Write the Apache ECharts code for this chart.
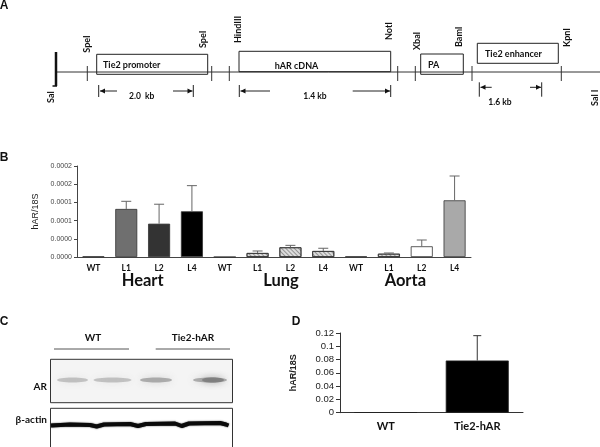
<!DOCTYPE html>
<html><head><meta charset="utf-8">
<script src="https://cdn.jsdelivr.net/npm/echarts@6/dist/echarts.min.js"></script>
<style>html,body{margin:0;padding:0;background:#fff}#c{width:600px;height:447px}</style>
</head><body><div id="c"></div>
<script>
// ---- Panel B data ----
const bGroups = ['Heart', 'Lung', 'Aorta'];
const bLabels = ['WT','L1','L2','L4','WT','L1','L2','L4','WT','L1','L2','L4'];
const bValues = [0.0000015, 0.000132, 0.0000915, 0.0001255, 0, 0.000011, 0.0000266, 0.0000165, 0.0000015, 0.000009, 0.0000294, 0.0001557];
const bErrors = [0, 0.000021, 0.0000535, 0.0000705, 0, 0.0000055, 0.0000054, 0.0000075, 0, 0.000002, 0.0000173, 0.0000668];
const bTickLabels = ['0.0000','0.0000','0.0001','0.0001','0.0002','0.0002'];
// ---- Panel D data ----
const dLabels = ['WT', 'Tie2-hAR'];
const dValues = [0.0006, 0.0786];
const dErrors = [0, 0.0374];

const FONT = 'Lato, "Open Sans", sans-serif';
const chart = echarts.init(document.getElementById('c'), null, {renderer: 'canvas'});

const hatch = {symbol: 'rect', symbolSize: 1, dashArrayX: [1, 0], dashArrayY: [1, 1.5], rotation: Math.PI / 4, color: 'rgba(60,60,60,0.45)'};
const bStyles = [
  {color: '#888'}, {color: '#6f6f6f'}, {color: '#333333'}, {color: '#000'},
  {color: '#ccc'}, {color: '#dcdcdc', decal: hatch}, {color: '#dcdcdc', decal: hatch}, {color: '#dcdcdc', decal: hatch},
  {color: '#888'}, {color: '#dcdcdc', decal: hatch}, {color: '#fff'}, {color: '#a9a9a9'}
];

function errItem(gridIdx, color) {
  return function (params, api) {
    const x = api.value(0), lo = api.value(1), hi = api.value(2);
    if (!(hi > lo)) return null;
    const p1 = api.coord([x, lo]), p2 = api.coord([x, hi]);
    const w = gridIdx === 0 ? 10 : 8;
    return {type: 'group', children: [
      {type: 'line', shape: {x1: p1[0], y1: p1[1], x2: p2[0], y2: p2[1]}, style: {stroke: color, lineWidth: 1}},
      {type: 'line', shape: {x1: p2[0] - w / 2, y1: p2[1], x2: p2[0] + w / 2, y2: p2[1]}, style: {stroke: color, lineWidth: 1}}
    ]};
  };
}

// ---- graphic: panel letters, schematic A, blot C ----
const G = [];
const bold = (size) => 'bold ' + size + 'px ' + FONT;
function txt(x, y, s, size, opts) {
  opts = opts || {};
  G.push({type: 'text', x: x, y: y, rotation: opts.rot || 0, z: 10,
    style: {text: s, font: opts.font || bold(size), fill: opts.fill || '#111',
      align: opts.align || 'center', verticalAlign: opts.va || 'middle',
      textAlign: opts.align || 'center', textVerticalAlign: opts.va || 'middle'}});
}
function ln(x1, y1, x2, y2, w, c) {
  G.push({type: 'line', z: 5, shape: {x1: x1, y1: y1, x2: x2, y2: y2}, style: {stroke: c || '#222', lineWidth: w || 1}});
}
function box(x, y, w, h) {
  G.push({type: 'rect', z: 5, shape: {x: x, y: y, width: w, height: h}, style: {fill: 'transparent', stroke: '#222', lineWidth: 1}});
}
function tri(x, y, dir) {
  const s = 5, h = 2.5;
  const pts = dir < 0 ? [[x, y], [x + s, y - h], [x + s, y + h]] : [[x, y], [x - s, y - h], [x - s, y + h]];
  G.push({type: 'polygon', z: 6, shape: {points: pts}, style: {fill: '#111'}});
}

// Letters
txt(4, 6, 'A', 12, {font: 'bold 12px "Liberation Sans", Arial'});
txt(4, 158, 'B', 12, {font: 'bold 12px "Liberation Sans", Arial'});
txt(4, 322, 'C', 12, {font: 'bold 12px "Liberation Sans", Arial'});
txt(296, 322, 'D', 12, {font: 'bold 12px "Liberation Sans", Arial'});

// Panel A: construct map
const AF = 9;
ln(57, 72, 600, 72, 1, '#333');
ln(56, 52, 56, 86, 2.5, '#111');
ln(52.5, 86, 57, 86, 1.5, '#111');
txt(51.5, 103, 'Sal', AF, {rot: Math.PI / 2, align: 'left'});
txt(595, 106, 'Sal I', AF, {rot: Math.PI / 2, align: 'left'});
[87.3, 211.7, 229.3, 397.7, 415.3, 472, 561.3].forEach(x => ln(x, 66, x, 81, 1, '#333'));
[[87.3, 52.7, 'SpeI'], [203.3, 48, 'SpeI'], [238.3, 43, 'HindIII'], [389.3, 40, 'NotI'],
 [416.7, 50, 'XbaI'], [459.3, 47, 'BamI'], [566.7, 47, 'KpnI']].forEach(r => txt(r[0], r[1], r[2], AF, {rot: Math.PI / 2, align: 'left'}));
box(96.7, 54.3, 111, 20);
box(239, 51.3, 151.7, 20.4);
box(420.7, 54, 42.6, 20.3);
box(477.3, 43.3, 81, 20);
txt(103, 65, 'Tie2 promoter', AF, {align: 'left'});
txt(296.5, 66, 'hAR cDNA', AF);
txt(428, 65, 'PA', AF, {align: 'left'});
txt(485, 54, 'Tie2 enhancer', AF, {align: 'left'});
// dimension arrows
ln(98.7, 85, 98.7, 97); ln(193.3, 85, 193.3, 97);
ln(100, 91, 117, 91); tri(100, 91, -1); ln(173, 91, 192.5, 91); tri(192.5, 91, 1);
txt(141.7, 96.7, '2.0  kb', 8.5);
ln(239.3, 85, 239.3, 97); ln(390.7, 85, 390.7, 97);
ln(240.5, 91, 270, 91); tri(240.5, 91, -1); ln(352.7, 91, 390, 91); tri(390, 91, 1);
txt(315, 96, '1.4 kb', 8.5);
ln(479.3, 82.3, 479.3, 96.7); ln(541.7, 82.3, 541.7, 96.7);
ln(480.5, 87.3, 491.7, 87.3); tri(480.5, 87.3, -1); ln(530, 87.3, 541, 87.3); tri(541, 87.3, 1);
txt(500, 102.7, '1.6 kb', 8.5);

// Panel C: western blot
txt(93, 338, 'WT', 10);
txt(193, 338, 'Tie2-hAR', 10);
ln(54, 349, 129, 349, 1, '#555');
ln(155.7, 349, 230, 349, 1, '#555');
G.push({type: 'rect', z: 4, shape: {x: 50.5, y: 359.3, width: 182, height: 43.4}, style: {fill: '#f4f4f4', stroke: '#333', lineWidth: 1}});
G.push({type: 'rect', z: 4, shape: {x: 50.5, y: 408.3, width: 182, height: 45}, style: {fill: '#fff', stroke: '#333', lineWidth: 1}});
[[72.5, 15.5, 0.35], [112.5, 19, 0.35], [156, 16, 0.5], [210, 17, 0.5]].forEach(b => {
  G.push({type: 'ellipse', z: 5, shape: {cx: b[0], cy: 380, rx: b[1], ry: 2.5},
    style: {fill: 'rgba(110,110,110,' + b[2] + ')', shadowBlur: 7, shadowColor: 'rgba(120,120,120,' + b[2] + ')'}});
});
G.push({type: 'ellipse', z: 5, shape: {cx: 213, cy: 380, rx: 11, ry: 2.8}, style: {fill: 'rgba(90,90,90,0.45)', shadowBlur: 6, shadowColor: 'rgba(90,90,90,0.6)'}});
G.push({type: 'polyline', z: 6, shape: {points: [[51, 425.5], [70, 424.5], [90, 425], [96.7, 426.5], [104, 424.5], [130, 424], [138, 426], [146, 424], [175, 423.5], [181.7, 426], [189, 423.5], [220, 423], [226, 424.5], [228.5, 425.5]]},
  style: {stroke: '#0a0a0a', lineWidth: 4, lineJoin: 'round', shadowBlur: 1.5, shadowColor: '#222'}});
txt(47, 387, 'AR', 10, {align: 'right'});
txt(47, 419.5, 'β-actin', 10, {align: 'right'});

const groupRich = {fontFamily: 'Lato', fontWeight: 700, fontSize: 16.5, color: '#111'};
const option = {
  animation: false,
  backgroundColor: '#fff',
  graphic: G,
  grid: [
    {left: 77, top: 166, width: 394, height: 91},
    {left: 340, top: 333, width: 183, height: 79.7}
  ],
  xAxis: [
    {type: 'category', gridIndex: 0, data: bLabels.map((l, i) => ({value: bGroups[Math.floor(i / 4)] + ' ' + l})),
      axisLine: {lineStyle: {color: '#444', width: 1}}, axisTick: {show: false},
      axisLabel: {interval: 0, margin: 7, formatter: v => v.split(' ')[1], fontFamily: FONT, fontWeight: 'bold', fontSize: 8.5, color: '#111'}},
    {type: 'category', gridIndex: 0, position: 'bottom', data: bGroups,
      axisLine: {show: false}, axisTick: {show: false},
      axisLabel: {interval: 0, margin: 15, fontFamily: 'Lato', fontWeight: 700, fontSize: 16.5, color: '#111',
        formatter: v => v === 'Lung' ? '{l|' + v + '}' : '{g|' + v + '}',
        rich: {g: groupRich, l: Object.assign({padding: [0, 0, 0, 14]}, groupRich)}}},
    {type: 'category', gridIndex: 1, data: dLabels,
      axisLine: {lineStyle: {color: '#333', width: 1}}, axisTick: {show: false},
      axisLabel: {interval: 0, margin: 8, fontFamily: FONT, fontWeight: 'bold', fontSize: 11, color: '#111'}}
  ],
  yAxis: [
    {type: 'value', gridIndex: 0, min: 0, max: 0.00025, interval: 0.00005,
      name: 'hAR/18S', nameLocation: 'middle', nameGap: 32, nameTextStyle: {fontFamily: '"Liberation Sans", Arial', fontSize: 9, color: '#222'},
      axisLine: {show: true, lineStyle: {color: '#444', width: 1}}, axisTick: {show: true, length: 3, lineStyle: {color: '#444'}},
      splitLine: {show: false},
      axisLabel: {margin: 5, fontFamily: '"Liberation Sans", Arial', fontSize: 7, color: '#444',
        formatter: v => bTickLabels[Math.round(v / 0.00005)]}},
    {type: 'value', gridIndex: 1, min: 0, max: 0.12, interval: 0.02,
      name: 'hAR/18S', nameLocation: 'middle', nameGap: 42, nameTextStyle: {fontFamily: '"Liberation Sans", Arial', fontSize: 9, fontWeight: 'bold', color: '#222'},
      axisLine: {show: true, lineStyle: {color: '#333', width: 1}}, axisTick: {show: true, length: 4, lineStyle: {color: '#333'}},
      splitLine: {show: false},
      axisLabel: {margin: 6, fontFamily: '"Liberation Sans", Arial', fontSize: 9.5, color: '#222'}}
  ],
  series: [
    {type: 'bar', xAxisIndex: 0, yAxisIndex: 0, barWidth: 22,
      data: bValues.map((v, i) => ({value: v, itemStyle: Object.assign({borderColor: '#333', borderWidth: 0.8}, bStyles[i])}))},
    {type: 'custom', xAxisIndex: 0, yAxisIndex: 0, z: 5, renderItem: errItem(0, '#666'), encode: {x: 0, y: [1, 2]},
      data: bValues.map((v, i) => [i, v, v + bErrors[i]])},
    {type: 'bar', xAxisIndex: 2, yAxisIndex: 1, barWidth: 63,
      data: dValues.map((v, i) => ({value: v, itemStyle: {color: i === 0 ? '#999' : '#000', borderColor: '#222', borderWidth: 0.8}}))},
    {type: 'custom', xAxisIndex: 2, yAxisIndex: 1, z: 5, renderItem: errItem(1, '#333'), encode: {x: 0, y: [1, 2]},
      data: dValues.map((v, i) => [i, v, v + dErrors[i]])}
  ]
};
chart.setOption(option);
</script></body></html>
